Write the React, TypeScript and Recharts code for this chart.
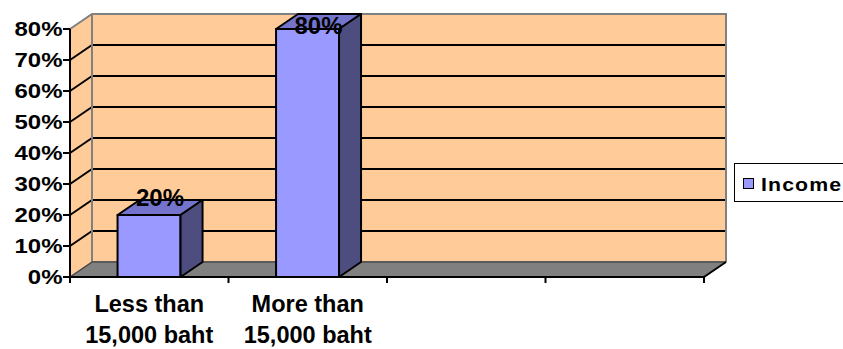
import React from 'react';
import { BarChart, Bar, XAxis, YAxis, ReferenceArea, LabelList, Legend } from 'recharts';

// Income groups on the category axis (the last two slots are left empty)
const categories = ['Less than\n15,000 baht', 'More than\n15,000 baht', '', ''];
// Share of respondents in each group, in percent
const incomeShare: (number | null)[] = [20, 80, null, null];
// Value axis ticks, in percent
const yTicks = [0, 10, 20, 30, 40, 50, 60, 70, 80];
const seriesName = 'Income';

const data = categories.map((category, i) => ({ category, income: incomeShare[i] }));

const FONT = '"Liberation Sans", Arial, Helvetica, sans-serif';
const DEPTH_X = 22;
const DEPTH_Y = 15;
const MARGIN = { top: 29, right: 139, bottom: 0, left: 0 };

const WALL = '#FFCC99';
const FLOOR = '#808080';
const EDGE = '#808080';
const BAR_FRONT = '#9999FF';
const BAR_TOP = '#7474CC';
const BAR_SIDE = '#4D4D80';

// Back wall, left wall and floor of the 3-D box, drawn from the plot rectangle
const Box3D = (props: any) => {
  const { x, y, width, height } = props;
  if (x == null || y == null) return null;
  const maxV = yTicks[yTicks.length - 1];
  const yOf = (v: number) => y + height * (1 - v / maxV);
  const bx = x + DEPTH_X;
  const right = x + width;
  const bottom = y + height;
  return (
    <g>
      {/* left wall */}
      <polygon
        points={`${x},${y} ${bx},${y - DEPTH_Y} ${bx},${bottom - DEPTH_Y} ${x},${bottom}`}
        fill={WALL}
        stroke="none"
      />
      {/* back wall */}
      <rect x={bx} y={y - DEPTH_Y} width={width} height={height} fill={WALL} stroke="none" />
      {/* floor */}
      <polygon
        points={`${x},${bottom} ${right},${bottom} ${right + DEPTH_X},${bottom - DEPTH_Y} ${bx},${bottom - DEPTH_Y}`}
        fill={FLOOR}
        stroke="none"
      />
      {/* gridlines on back wall, diagonals on left wall */}
      {yTicks
        .filter((t) => t > 0 && t < maxV)
        .map((t) => {
          const ty = yOf(t);
          return (
            <g key={t}>
              <line x1={bx} y1={ty - DEPTH_Y} x2={right + DEPTH_X} y2={ty - DEPTH_Y} stroke="#000" strokeWidth={2} />
              <line x1={x} y1={ty} x2={bx} y2={ty - DEPTH_Y} stroke="#000" strokeWidth={2} />
            </g>
          );
        })}
      {/* wall edges */}
      <polyline
        points={`${x},${y} ${bx},${y - DEPTH_Y} ${right + DEPTH_X},${y - DEPTH_Y} ${right + DEPTH_X},${bottom - DEPTH_Y}`}
        fill="none"
        stroke={EDGE}
        strokeWidth={2}
      />
      <line x1={bx} y1={y - DEPTH_Y} x2={bx} y2={bottom - DEPTH_Y} stroke={EDGE} strokeWidth={2} />
      <line x1={bx} y1={bottom - DEPTH_Y} x2={right + DEPTH_X} y2={bottom - DEPTH_Y} stroke="#5a5a5a" strokeWidth={2} />
      <line x1={x} y1={bottom} x2={bx} y2={bottom - DEPTH_Y} stroke="#404040" strokeWidth={1.5} />
      <line x1={right} y1={bottom} x2={right + DEPTH_X} y2={bottom - DEPTH_Y} stroke="#000" strokeWidth={2} />
    </g>
  );
};

// 3-D column: front face, top face and right side face
const Column3D = (props: any) => {
  const { x, y, width, height, value } = props;
  if (value == null || !height || height <= 0) return null;
  const r = x + width;
  const b = y + height;
  const common = { stroke: '#000', strokeWidth: 2, strokeLinejoin: 'round' as const };
  return (
    <g>
      <rect x={x} y={y} width={width} height={height} fill={BAR_FRONT} {...common} />
      <polygon
        points={`${x},${y} ${x + DEPTH_X},${y - DEPTH_Y} ${r + DEPTH_X},${y - DEPTH_Y} ${r},${y}`}
        fill={BAR_TOP}
        {...common}
      />
      <polygon
        points={`${r},${y} ${r + DEPTH_X},${y - DEPTH_Y} ${r + DEPTH_X},${b - DEPTH_Y} ${r},${b}`}
        fill={BAR_SIDE}
        {...common}
      />
    </g>
  );
};

const ValueLabel = (props: any) => {
  const { x, y, width, value } = props;
  if (value == null) return null;
  const cx = x + width / 2 + DEPTH_X / 2;
  // keep the label inside the chart area near the top
  const baseline = Math.max(y - 9, MARGIN.top + 5);
  return (
    <text x={cx} y={baseline} textAnchor="middle" fontFamily={FONT} fontWeight={700} fontSize={24} fill="#000">
      {`${value}%`}
    </text>
  );
};

const PercentTick = (props: any) => {
  const { x, y, payload } = props;
  return (
    <text
      transform={`translate(${x + 1.5},${y + 0.5}) scale(1.17,1)`}
      textAnchor="end"
      dominantBaseline="central"
      fontFamily={FONT}
      fontWeight={700}
      fontSize={20.5}
      fill="#000"
    >
      {`${payload.value}%`}
    </text>
  );
};

const TICK_LEN = 6;

const CategoryTick = (props: any) => {
  const { x, y, payload, index } = props;
  const half = payload?.offset ?? 0;
  const lines = String(payload?.value ?? '').split('\n').filter((s) => s.length > 0);
  const last = index === categories.length - 1;
  return (
    <g>
      <line x1={x - half} y1={y - TICK_LEN} x2={x - half} y2={y} stroke="#000" strokeWidth={2} />
      {last && <line x1={x + half} y1={y - TICK_LEN} x2={x + half} y2={y} stroke="#000" strokeWidth={2} />}
      {lines.map((line, i) => (
        <text
          key={i}
          x={x}
          y={y + 29 + i * 31}
          textAnchor="middle"
          fontFamily={FONT}
          fontWeight={700}
          fontSize={23.5}
          fill="#000"
        >
          {line}
        </text>
      ))}
    </g>
  );
};

const LegendBox = () => (
  <div
    style={{
      boxSizing: 'border-box',
      width: 130,
      height: 39,
      border: '1.5px solid #000',
      background: '#fff',
      display: 'flex',
      alignItems: 'center',
      paddingLeft: 7.5,
      fontFamily: FONT,
      fontWeight: 700,
      fontSize: 19,
      lineHeight: '19px',
      color: '#000',
      whiteSpace: 'nowrap',
    }}
  >
    <span
      style={{
        display: 'inline-block',
        width: 11,
        height: 11,
        boxSizing: 'border-box',
        background: BAR_FRONT,
        border: '1px solid #000',
        marginRight: 7,
        marginTop: 1,
      }}
    />
    <span style={{ display: 'inline-block', transform: 'scaleX(1.12)', transformOrigin: 'left center', letterSpacing: 1, marginTop: 3 }}>
      {seriesName}
    </span>
  </div>
);

export default function App() {
  return (
    <div style={{ width: 843, height: 349, overflow: 'hidden', position: 'relative', background: '#fff' }}>
      <style>{'body{margin:0;overflow:hidden;}'}</style>
      <BarChart width={843} height={349} data={data} margin={MARGIN} barCategoryGap="30%">
        <ReferenceArea y1={0} y2={80} shape={Box3D} ifOverflow="visible" zIndex={-200} />
        <XAxis
          dataKey="category"
          height={72}
          interval={0}
          tickLine={false}
          tickSize={TICK_LEN}
          tickMargin={0}
          axisLine={{ stroke: '#000', strokeWidth: 2 }}
          tick={CategoryTick}
        />
        <YAxis
          width={70}
          domain={[0, 80]}
          ticks={yTicks}
          interval={0}
          tickSize={7}
          tickMargin={2}
          axisLine={{ stroke: '#000', strokeWidth: 2 }}
          tickLine={{ stroke: '#000', strokeWidth: 2 }}
          tick={PercentTick}
        />
        <Legend
          layout="vertical"
          align="center"
          verticalAlign="middle"
          wrapperStyle={{ left: 734, top: 163, right: 'auto', bottom: 'auto', width: 130, height: 39 }}
          content={LegendBox}
        />
        <Bar dataKey="income" name={seriesName} fill={BAR_FRONT} shape={Column3D} isAnimationActive={false}>
          <LabelList dataKey="income" content={ValueLabel} />
        </Bar>
      </BarChart>
    </div>
  );
}
